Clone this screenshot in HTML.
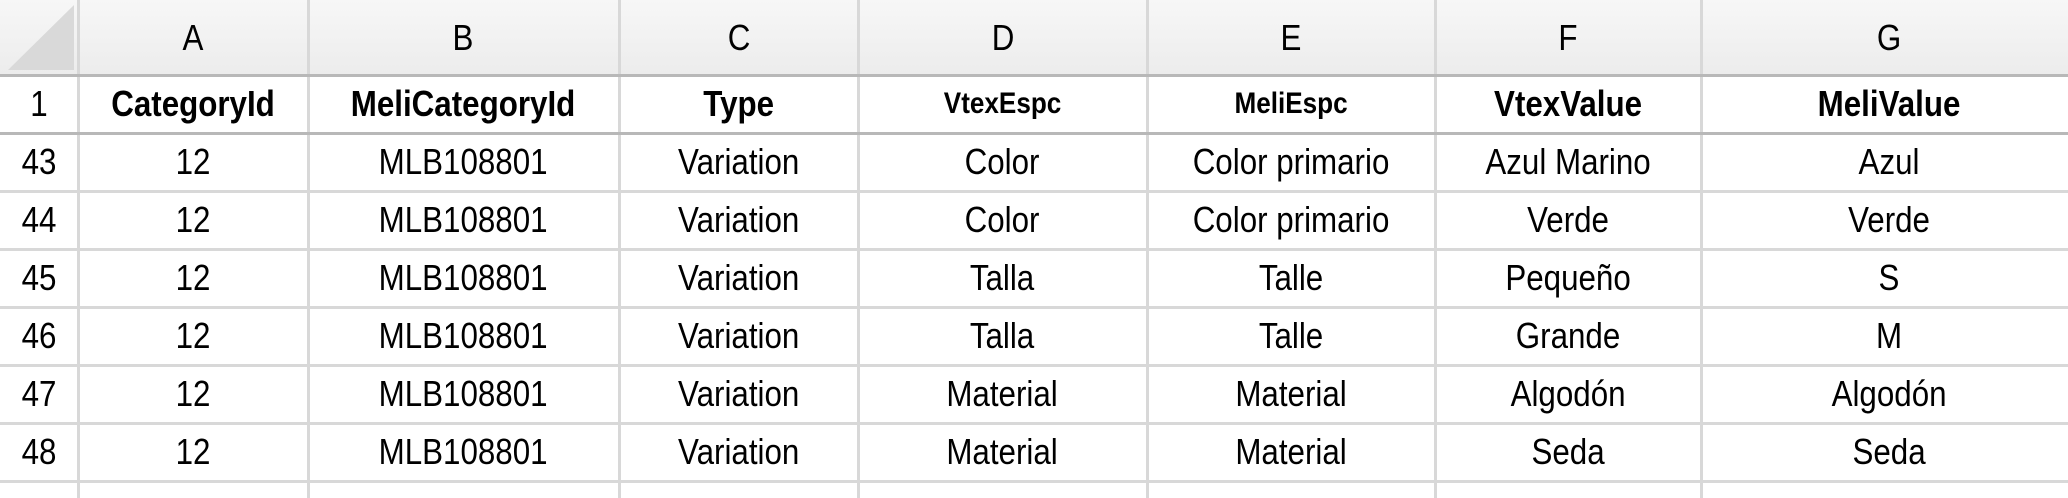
<!DOCTYPE html>
<html><head><meta charset="utf-8"><style>
body{margin:0;width:2068px;height:498px;overflow:hidden;background:#fff;font-family:"Liberation Sans",sans-serif;}
.c{position:absolute;display:flex;align-items:center;justify-content:center;font-size:36px;color:#000;box-sizing:border-box;white-space:nowrap;}
.c span{display:inline-block;transform:scaleX(0.87);}
.v{position:absolute;top:0;width:3px;height:498px;background:#d8d8d8;}
.h{position:absolute;left:0;width:2068px;height:3px;background:#d8d8d8;}
.b{font-weight:bold;}
.s{font-size:30px;}
</style></head><body>
<div style="position:absolute;left:0;top:0;width:2068px;height:75px;background:linear-gradient(#f7f7f7,#ececec);"></div>
<svg style="position:absolute;left:0;top:0" width="78" height="75"><polygon points="8,70 74,70 74,5" fill="#d9d9d9"/></svg>
<div class="v" style="left:77px"></div>
<div class="v" style="left:307px"></div>
<div class="v" style="left:618px"></div>
<div class="v" style="left:857px"></div>
<div class="v" style="left:1146px"></div>
<div class="v" style="left:1434px"></div>
<div class="v" style="left:1700px"></div>
<div class="h" style="top:74px;background:#b8b8b8"></div>
<div class="h" style="top:132px;background:#b8b8b8"></div>
<div class="h" style="top:190px"></div>
<div class="h" style="top:248px"></div>
<div class="h" style="top:306px"></div>
<div class="h" style="top:364px"></div>
<div class="h" style="top:422px"></div>
<div class="h" style="top:480px"></div>
<div id="g"></div>
<script>
var cols=[0,78,308,619,858,1147,1435,1701,2068];
var tops=[0,75,133,191,249,307,365,423,481];
var rows=[
["","A","B","C","D","E","F","G"],
["1","CategoryId","MeliCategoryId","Type","VtexEspc","MeliEspc","VtexValue","MeliValue"],
["43","12","MLB108801","Variation","Color","Color primario","Azul Marino","Azul"],
["44","12","MLB108801","Variation","Color","Color primario","Verde","Verde"],
["45","12","MLB108801","Variation","Talla","Talle","Pequeño","S"],
["46","12","MLB108801","Variation","Talla","Talle","Grande","M"],
["47","12","MLB108801","Variation","Material","Material","Algodón","Algodón"],
["48","12","MLB108801","Variation","Material","Material","Seda","Seda"]];
var h="";
for(var r=0;r<rows.length;r++)for(var c=0;c<8;c++){
 var cls="c";
 if(r==1&&c>0)cls+=" b";
 if(r==1&&(c==4||c==5))cls+=" s";
 var l=cols[c],w=cols[c+1]-cols[c]; if(c==7)w=376;
 h+='<div class="'+cls+'" style="left:'+l+'px;top:'+tops[r]+'px;width:'+w+'px;height:'+(r==0?75:58)+'px"><span>'+rows[r][c]+'</span></div>';
}
document.getElementById("g").innerHTML=h;
</script>
</body></html>
